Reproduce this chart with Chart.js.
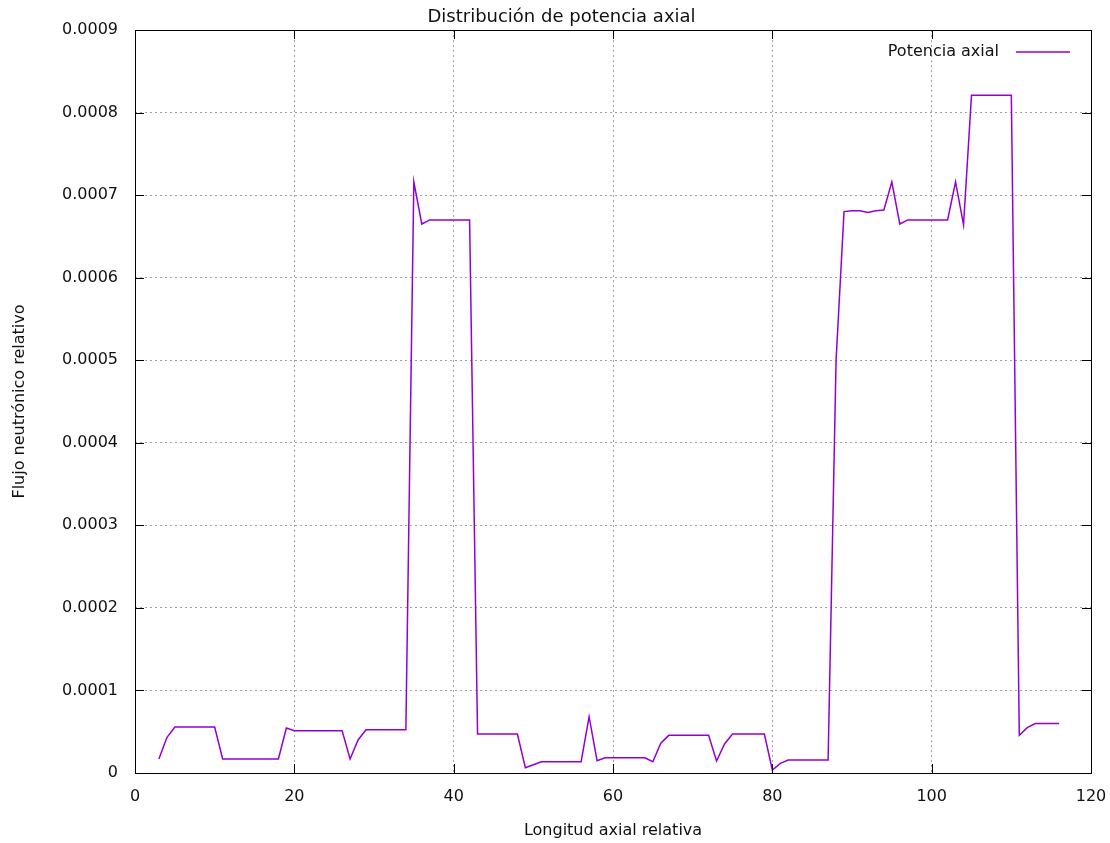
<!DOCTYPE html>
<html lang="es">
<head>
<meta charset="utf-8">
<title>Distribución de potencia axial</title>
<script src="https://cdn.jsdelivr.net/npm/chart.js@4.4.1/dist/chart.umd.min.js"></script>
<style>
  html, body { margin: 0; padding: 0; background: #fff; }
  #wrap { width: 1110px; height: 843px; position: relative; }
</style>
</head>
<body>
<div id="wrap"><canvas id="powerChart"></canvas></div>
<script>
// Axial positions (x) and relative flux per position (y)
const AXIAL_POS = [
    3,   4,   5,   6,   7,   8,   9,  10,  11,  12,
   13,  14,  15,  16,  17,  18,  19,  20,  21,  22,
   23,  24,  25,  26,  27,  28,  29,  30,  31,  32,
   33,  34,  35,  36,  37,  38,  39,  40,  41,  42,
   43,  44,  45,  46,  47,  48,  49,  50,  51,  52,
   53,  54,  55,  56,  57,  58,  59,  60,  61,  62,
   63,  64,  65,  66,  67,  68,  69,  70,  71,  72,
   73,  74,  75,  76,  77,  78,  79,  80,  81,  82,
   83,  84,  85,  86,  87,  88,  89,  90,  91,  92,
   93,  94,  95,  96,  97,  98,  99, 100, 101, 102,
  103, 104, 105, 106, 107, 108, 109, 110, 111, 112,
  113, 114, 115, 116
];

const AXIAL_POWER = [
  0.000017,  0.000043,  0.0000557, 0.0000557, 0.0000557, 0.0000557, 0.0000557, 0.0000557, 0.000017,  0.000017,
  0.000017,  0.000017,  0.000017,  0.000017,  0.000017,  0.000017,  0.0000545, 0.0000512, 0.0000512, 0.0000512,
  0.0000512, 0.0000512, 0.0000512, 0.0000512, 0.000017,  0.00004,   0.0000524, 0.0000524, 0.0000524, 0.0000524,
  0.0000524, 0.0000524, 0.000716,  0.000665,  0.00067,   0.00067,   0.00067,   0.00067,   0.00067,   0.00067,
  0.0000472, 0.0000472, 0.0000472, 0.0000472, 0.0000472, 0.0000472, 0.0000064, 0.00001,   0.0000137, 0.0000137,
  0.0000137, 0.0000137, 0.0000137, 0.0000137, 0.0000682, 0.0000149, 0.0000185, 0.0000185, 0.0000185, 0.0000185,
  0.0000185, 0.0000185, 0.0000137, 0.000036,  0.0000456, 0.0000456, 0.0000456, 0.0000456, 0.0000456, 0.0000456,
  0.0000145, 0.0000351, 0.0000472, 0.0000472, 0.0000472, 0.0000472, 0.0000472, 0.0000036, 0.0000117, 0.0000157,
  0.0000157, 0.0000157, 0.0000157, 0.0000157, 0.0000157, 0.0005,    0.00068,   0.000681,  0.000681,  0.000679,
  0.000681,  0.000682,  0.000716,  0.000665,  0.00067,   0.00067,   0.00067,   0.00067,   0.00067,   0.00067,
  0.000716,  0.000664,  0.000821,  0.000821,  0.000821,  0.000821,  0.000821,  0.000821,  0.0000456, 0.000055,
  0.00006,   0.00006,   0.00006,   0.00006
];

const SERIES_LABEL = 'Potencia axial';
const CHART_TITLE  = 'Distribución de potencia axial';
const X_TITLE      = 'Longitud axial relativa';
const Y_TITLE      = 'Flujo neutrónico relativo';

const LINE_COLOR = '#9400d3';
const GRID_COLOR = '#a0a0a0';
const FONT       = { family: 'DejaVu Sans', size: 16, weight: 'normal' };

Chart.defaults.font.family = FONT.family;
Chart.defaults.color = '#111';

// ── gnuplot-like frame: box border, inward ticks on all four sides, key ──
const framePlugin = {
  id: 'frame',
  afterDatasetsDraw(chart) {
    const { ctx, chartArea: a, scales } = chart;
    const tick = 9;
    ctx.save();
    ctx.strokeStyle = '#000';
    ctx.lineWidth = 1;
    ctx.beginPath();

    scales.x.ticks.forEach(t => {
      const px = Math.round(scales.x.getPixelForValue(t.value)) + 0.5;
      ctx.moveTo(px, a.bottom); ctx.lineTo(px, a.bottom - tick);
      ctx.moveTo(px, a.top);    ctx.lineTo(px, a.top + tick);
    });
    scales.y.ticks.forEach(t => {
      const py = Math.round(scales.y.getPixelForValue(t.value)) + 0.5;
      ctx.moveTo(a.left, py);  ctx.lineTo(a.left + tick, py);
      ctx.moveTo(a.right, py); ctx.lineTo(a.right - tick, py);
    });
    ctx.stroke();

    ctx.strokeRect(Math.round(a.left) + 0.5, Math.round(a.top) + 0.5,
                   Math.round(a.right - a.left), Math.round(a.bottom - a.top));

    // key in the upper-right corner: label, then line sample
    const ds = chart.data.datasets[0];
    const keyY = a.top + 22;
    const sampleRight = a.right - 21;
    const sampleLeft  = sampleRight - 54;
    ctx.font = `${FONT.size}px "${FONT.family}"`;
    ctx.fillStyle = '#111';
    ctx.textAlign = 'right';
    ctx.textBaseline = 'middle';
    ctx.fillText(ds.label, sampleLeft - 17, keyY);
    ctx.strokeStyle = ds.borderColor;
    ctx.lineWidth = ds.borderWidth;
    ctx.beginPath();
    ctx.moveTo(sampleLeft, keyY);
    ctx.lineTo(sampleRight, keyY);
    ctx.stroke();
    ctx.restore();
  }
};

const ctx = document.getElementById('powerChart').getContext('2d');

new Chart(ctx, {
  type: 'line',
  data: {
    datasets: [{
      label:       SERIES_LABEL,
      data:        AXIAL_POS.map((x, i) => ({ x: x, y: AXIAL_POWER[i] })),
      borderColor: LINE_COLOR,
      borderWidth: 1.5,
      pointRadius: 0,
      tension:     0,
      fill:        false
    }]
  },
  options: {
    responsive:          true,
    maintainAspectRatio: false,
    animation:           false,
    layout: { padding: { left: 32, right: 19, top: 0, bottom: 0 } },
    plugins: {
      legend:  { display: false },
      tooltip: { enabled: false },
      title: {
        display: true,
        text:    CHART_TITLE,
        color:   '#111',
        font:    { family: FONT.family, size: 18, weight: 'normal', lineHeight: 1.2 },
        padding: { top: 7, bottom: 1.4 }
      }
    },
    scales: {
      x: {
        type: 'linear',
        min:  0,
        max:  120,
        afterFit: scale => {
          scale.height = 70;
          scale.paddingLeft = 0;
          scale.paddingRight = 0;
        },
        border: { display: false, dash: [2, 3] },
        grid: {
          drawTicks: false,
          lineWidth: 1,
          color: c => (c.tick && (c.tick.value === 0 || c.tick.value === 120)) ? 'rgba(0,0,0,0)' : GRID_COLOR
        },
        ticks: { stepSize: 20, padding: 14, color: '#111', font: FONT, maxRotation: 0 },
        title: {
          display: true,
          text:    X_TITLE,
          color:   '#111',
          font:    { ...FONT, lineHeight: 1.2 },
          padding: { top: 0, bottom: 3 }
        }
      },
      y: {
        min: 0,
        max: 0.0009,
        afterFit: scale => {
          scale.width = 103;
          scale.paddingTop = 0;
          scale.paddingBottom = 0;
        },
        border: { display: false, dash: [2, 3] },
        grid: {
          drawTicks: false,
          lineWidth: 1,
          color: c => (c.tick && (c.tick.value === 0 || Math.abs(c.tick.value - 0.0009) < 1e-9)) ? 'rgba(0,0,0,0)' : GRID_COLOR
        },
        ticks: {
          stepSize: 0.0001,
          padding:  17,
          color:    '#111',
          font:     FONT,
          callback: v => (v === 0 ? '0' : Number(v).toFixed(4))
        },
        title: {
          display: true,
          text:    Y_TITLE,
          color:   '#111',
          font:    { ...FONT, lineHeight: 1.2 },
          padding: { top: -22, bottom: 0 }
        }
      }
    }
  },
  plugins: [framePlugin]
});
</script>
</body>
</html>
